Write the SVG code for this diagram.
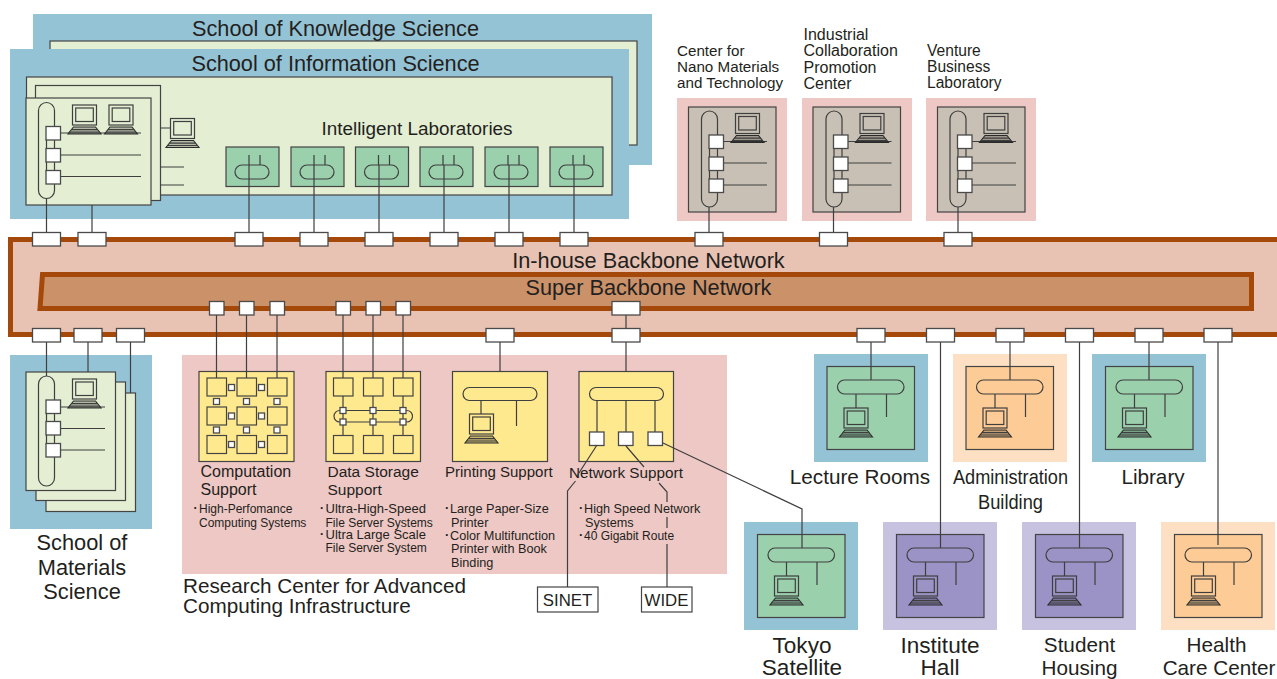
<svg xmlns="http://www.w3.org/2000/svg" width="1277" height="679" viewBox="0 0 1277 679">
<style>
text{font-family:"Liberation Sans",Arial,sans-serif;fill:#231f20}
.t20{font-size:21.7px}.t19{font-size:20.7px}.t22{font-size:22.6px}.t16{font-size:15.300px}.t12{font-size:12px}.t13{font-size:12.7px}
.m{text-anchor:middle}
.b{font-weight:bold}
.ln{fill:none;stroke:#3f3f3f;stroke-width:1.2}
.box{stroke:#444;stroke-width:1.2}
.port{fill:#fff;stroke:#4a4a4a;stroke-width:1.3}
.blue{fill:#95c3d6}.pink{fill:#eec8c5}.lpurple{fill:#c6c2e0}.peach{fill:#fde0c4}
.green{fill:#9bd0ac}.purple{fill:#9b93c6}.orange{fill:#fdcb95}.gray{fill:#c8c0b4}.pale{fill:#e3eed3}.yellow{fill:#ffe98f}
</style>
<defs>
<g id="cpu">
<rect x="0" y="0" width="24" height="20" class="ln"/>
<rect x="3.200" y="3" width="17.600" height="13.500" class="ln"/>
<path d="M1 22H23L28.500 29H-4.500Z" fill="#000" fill-opacity=".22" stroke="#2a2a2a" stroke-width="1.100"/>
<path d="M-1 24.700H25M-3 27H27" class="ln" stroke-width=".9"/>
</g>
<rect id="pt" x="-14" y="0" width="28" height="13.500" class="port"/>
<rect id="sq" x="0" y="0" width="14.500" height="13.500" class="port"/>
<rect id="ssq" x="0" y="0" width="6" height="6" class="port"/>
<rect id="cell" x="0" y="0" width="19.500" height="18" fill="#ffe98f" class="box"/>
<g id="rack">
<rect x="0" y="0" width="16" height="96" rx="8" class="ln"/>
<path d="M8 36V70" class="ln"/>
<use href="#sq" x="7.500" y="24"/><use href="#sq" x="7.500" y="46"/><use href="#sq" x="7.500" y="68"/>
</g>
<g id="site">
<rect x="10.500" y="14" width="66.500" height="14" rx="7" class="ln"/>
<path d="M29 28V42M59.500 28V51" class="ln"/>
<use href="#cpu" x="17" y="42"/>
</g>
<g id="lab">
<rect x="9" y="18" width="34" height="14" rx="7" class="ln"/>
<path d="M23 8V18M34 8V18" class="ln"/>
</g>
</defs>

<g id="school-knowledge">
<rect x="33" y="14" width="619" height="151" class="blue"/>
<rect x="50" y="41" width="587" height="104" class="pale box"/>
<text x="335.500" y="36" class="t20 m">School of Knowledge Science</text>
</g>

<g id="school-information">
<rect x="10" y="49" width="619" height="170" class="blue"/>
<rect x="26.500" y="77" width="585.500" height="118" class="pale box"/>
<text x="335.500" y="71" class="t20 m">School of Information Science</text>
<text x="417" y="135" class="m" style="font-size:18.900px">Intelligent Laboratories</text>
<rect x="35.500" y="85.500" width="125" height="115" class="pale box"/>
<path d="M160 128H170M160 167H184M160 185H184" class="ln"/>
<use href="#cpu" x="170.500" y="118.500"/>
<rect x="26" y="98" width="125" height="107" class="pale box"/>
<path d="M60 133H141M60 155H141M60 176.500H141" class="ln"/>
<use href="#rack" x="38.500" y="102.500"/>
<use href="#cpu" x="72.500" y="105"/>
<use href="#cpu" x="109" y="105"/>
</g>

<g id="intelligent-labs">
<g id="lab1"><rect x="226" y="147" width="53" height="39.500" class="green box"/><use href="#lab" x="226" y="147"/></g>
<g id="lab2"><rect x="291" y="147" width="53" height="39.500" class="green box"/><use href="#lab" x="291" y="147"/></g>
<g id="lab3"><rect x="355.500" y="147" width="53" height="39.500" class="green box"/><use href="#lab" x="355.500" y="147"/></g>
<g id="lab4"><rect x="420" y="147" width="53" height="39.500" class="green box"/><use href="#lab" x="420" y="147"/></g>
<g id="lab5"><rect x="485" y="147" width="53" height="39.500" class="green box"/><use href="#lab" x="485" y="147"/></g>
<g id="lab6"><rect x="550" y="147" width="53" height="39.500" class="green box"/><use href="#lab" x="550" y="147"/></g>
</g>

<g id="center-nano">
<rect x="677" y="98" width="110" height="123" class="pink"/>
<rect x="688.500" y="107" width="87.500" height="105" class="gray box"/>
<path d="M723 141.500H767M723 163H767M723 185H767" class="ln"/>
<use href="#rack" x="701.500" y="111"/>
<use href="#cpu" x="735.500" y="113.500"/>
<text style="font-size:15.200px"><tspan x="677" y="55.500">Center for</tspan><tspan x="677" y="72">Nano Materials</tspan><tspan x="677" y="88">and Technology</tspan></text>
</g>
<g id="center-industrial">
<rect x="802" y="98" width="110" height="123" class="pink"/>
<rect x="813" y="107" width="87.500" height="105" class="gray box"/>
<path d="M847.500 141.500H891.500M847.500 163H891.500M847.500 185H891.500" class="ln"/>
<use href="#rack" x="826" y="111"/>
<use href="#cpu" x="860" y="113.500"/>
<text style="font-size:16px"><tspan x="803.500" y="39.500">Industrial</tspan><tspan x="803.500" y="56">Collaboration</tspan><tspan x="803.500" y="72.500">Promotion</tspan><tspan x="803.500" y="88.500">Center</tspan></text>
</g>
<g id="center-venture">
<rect x="926" y="98" width="110" height="123" class="pink"/>
<rect x="937.500" y="107" width="87.500" height="105" class="gray box"/>
<path d="M972 141.500H1016M972 163H1016M972 185H1016" class="ln"/>
<use href="#rack" x="950" y="111"/>
<use href="#cpu" x="984" y="113.500"/>
<text style="font-size:15.600px"><tspan x="927" y="55.500">Venture</tspan><tspan x="927" y="72">Business</tspan><tspan x="927" y="88">Laboratory</tspan></text>
</g>

<g id="backbone">
<path d="M1280 239.500H10.500V334.500H1280" fill="#e8c2b2" stroke="#a5490b" stroke-width="5"/>
<text x="648.500" y="267.500" class="t20 m">In-house Backbone Network</text>
</g>
<g id="super-backbone">
<path d="M42.500 274.500H1251.500V308.500H40Z" fill="#cb9169" stroke="#a5490b" stroke-width="5"/>
<text x="648.500" y="295" class="t20 m">Super Backbone Network</text>
</g>

<g id="school-materials">
<rect x="10" y="355" width="142" height="174" class="blue"/>
<rect x="46" y="393" width="89.500" height="118.500" class="pale box"/>
<rect x="36" y="382" width="89.500" height="118.500" class="pale box"/>
<rect x="26" y="372" width="89.500" height="118.500" class="pale box"/>
<rect x="38.500" y="376" width="16" height="110" rx="8" class="ln"/>
<path d="M46.500 407H105M46.500 428.500H105M46.500 450H105M46.500 412V445" class="ln"/>
<use href="#sq" x="46" y="400"/><use href="#sq" x="46" y="421.500"/><use href="#sq" x="46" y="443.500"/>
<use href="#cpu" x="72.500" y="379"/>
<text class="m" style="font-size:21.800px"><tspan x="82" y="550">School of</tspan><tspan x="82" y="575">Materials</tspan><tspan x="82" y="599">Science</tspan></text>
</g>

<g id="research-center">
<rect x="182" y="355" width="545" height="219" class="pink"/>
<text x="183" y="593" class="t19">Research Center for Advanced</text>
<text x="183" y="613" class="t19">Computing Infrastructure</text>
</g>

<g id="computation-support">
<rect x="199" y="371.500" width="95" height="90" class="yellow box"/>
<use href="#cell" x="207" y="378"/><use href="#cell" x="237" y="378"/><use href="#cell" x="267.500" y="378"/>
<use href="#cell" x="207" y="407"/><use href="#cell" x="237" y="407"/><use href="#cell" x="267.500" y="407"/>
<use href="#cell" x="207" y="435.500"/><use href="#cell" x="237" y="435.500"/><use href="#cell" x="267.500" y="435.500"/>
<use href="#ssq" x="228.500" y="384.500"/><use href="#ssq" x="258.500" y="384.500"/>
<use href="#ssq" x="228.500" y="413"/><use href="#ssq" x="258.500" y="413"/>
<use href="#ssq" x="228.500" y="441.500"/><use href="#ssq" x="258.500" y="441.500"/>
<use href="#ssq" x="213.500" y="398.500"/><use href="#ssq" x="243.500" y="398.500"/><use href="#ssq" x="274" y="398.500"/>
<use href="#ssq" x="213.500" y="427"/><use href="#ssq" x="243.500" y="427"/><use href="#ssq" x="274" y="427"/>
<text style="font-size:16px"><tspan x="200.500" y="477">Computation</tspan><tspan x="200.500" y="495">Support</tspan></text>
<text class="t12"><tspan x="193.500" y="512" class="b">·</tspan><tspan x="199" y="513">High-Perfomance</tspan><tspan x="199" y="527">Computing Systems</tspan></text>
</g>

<g id="data-storage-support">
<rect x="326" y="371.500" width="94.500" height="90" class="yellow box"/>
<path d="M343 396V436M373 396V436M403 396V436" class="ln"/>
<rect x="334" y="410.500" width="78.500" height="11.500" rx="5.700" class="ln"/>
<use href="#cell" x="333.500" y="378"/><use href="#cell" x="363.500" y="378"/><use href="#cell" x="393.500" y="378"/>
<use href="#cell" x="333.500" y="435.500"/><use href="#cell" x="363.500" y="435.500"/><use href="#cell" x="393.500" y="435.500"/>
<use href="#ssq" x="340" y="407.500"/><use href="#ssq" x="370" y="407.500"/><use href="#ssq" x="400" y="407.500"/>
<use href="#ssq" x="340" y="419"/><use href="#ssq" x="370" y="419"/><use href="#ssq" x="400" y="419"/>
<text style="font-size:15.500px"><tspan x="327.500" y="477">Data Storage</tspan><tspan x="327.500" y="494.500">Support</tspan></text>
<text class="t12"><tspan x="320" y="512" class="b">·</tspan><tspan x="325.500" y="513" style="font-size:13px">Ultra-High-Speed</tspan><tspan x="325.500" y="526.500">File Server Systems</tspan><tspan x="320" y="538" class="b">·</tspan><tspan x="325.500" y="539" style="font-size:13px">Ultra Large Scale</tspan><tspan x="325.500" y="552">File Server System</tspan></text>
</g>

<g id="printing-support">
<rect x="452.500" y="371.500" width="95" height="90" class="yellow box"/>
<rect x="463" y="387.500" width="74" height="13" rx="6.500" class="ln"/>
<path d="M481 400.500V414M516.500 400.500V426" class="ln"/>
<use href="#cpu" x="469.500" y="414"/>
<text x="445" y="477" style="font-size:15px">Printing Support</text>
<text class="t13"><tspan x="445" y="512" class="b">·</tspan><tspan x="450" y="513">Large Paper-Size</tspan><tspan x="451" y="527">Printer</tspan><tspan x="445" y="539" class="b">·</tspan><tspan x="450" y="540">Color Multifunction</tspan><tspan x="451" y="553">Printer with Book</tspan><tspan x="451" y="567">Binding</tspan></text>
</g>

<g id="network-support">
<rect x="579" y="371.500" width="94.500" height="90" class="yellow box"/>
<rect x="589.500" y="387.500" width="74" height="13" rx="6.500" class="ln"/>
<path d="M597 400.500V432M626 400.500V432M655 400.500V432" class="ln"/>
<use href="#sq" x="589.500" y="432"/><use href="#sq" x="618.500" y="432"/><use href="#sq" x="648" y="432"/>
<text x="569" y="478" class="t16">Network Support</text>
<text class="t13"><tspan x="579" y="512" class="b">·</tspan><tspan x="584" y="513">High Speed Network</tspan><tspan x="585" y="527">Systems</tspan><tspan x="579" y="539" class="b">·</tspan><tspan x="584" y="540" style="font-size:12px">40 Gigabit Route</tspan></text>
</g>

<g id="sinet"><rect x="537.500" y="587" width="60.500" height="25" fill="#fff" class="box"/><text x="567.500" y="606" class="m" style="font-size:16.800px">SINET</text></g>
<g id="wide"><rect x="641.500" y="587" width="50.500" height="25" fill="#fff" class="box"/><text x="666.500" y="606" class="m" style="font-size:16.800px">WIDE</text></g>

<g id="lecture-rooms">
<rect x="814" y="354" width="114" height="108" class="blue"/>
<rect x="827" y="366.500" width="87.500" height="83" class="green box"/>
<use href="#site" x="827" y="366"/>
<text x="860" y="484" class="t19 m">Lecture Rooms</text>
</g>
<g id="administration">
<rect x="953" y="354" width="114" height="108" class="peach"/>
<rect x="966" y="366.500" width="87.500" height="83" class="orange box"/>
<use href="#site" x="966" y="366"/>
<text x="953" y="484" textLength="115" lengthAdjust="spacingAndGlyphs" class="t19">Administration</text>
<text x="978" y="509" textLength="65" lengthAdjust="spacingAndGlyphs" class="t19">Building</text>
</g>
<g id="library">
<rect x="1092" y="354" width="114" height="108" class="blue"/>
<rect x="1105.500" y="366.500" width="87.500" height="83" class="green box"/>
<use href="#site" x="1105.500" y="366"/>
<text x="1153" y="484" class="t19 m">Library</text>
</g>
<g id="tokyo-satellite">
<rect x="744" y="522" width="114" height="108" class="blue"/>
<rect x="757.500" y="534.500" width="87.500" height="83" class="green box"/>
<use href="#site" x="757.500" y="534"/>
<text class="t22 m"><tspan x="802" y="652.500">Tokyo</tspan><tspan x="802" y="674.500">Satellite</tspan></text>
</g>
<g id="institute-hall">
<rect x="883" y="522" width="114" height="108" class="lpurple"/>
<rect x="896.500" y="534.500" width="87.500" height="83" class="purple box"/>
<use href="#site" x="896.500" y="534"/>
<text class="t22 m"><tspan x="940" y="652.500">Institute</tspan><tspan x="940" y="674.500">Hall</tspan></text>
</g>
<g id="student-housing">
<rect x="1022" y="522" width="114" height="108" class="lpurple"/>
<rect x="1035.500" y="534.500" width="87.500" height="83" class="purple box"/>
<use href="#site" x="1035.500" y="534"/>
<text class="t19 m"><tspan x="1079.500" y="652">Student</tspan><tspan x="1079.500" y="674.500">Housing</tspan></text>
</g>
<g id="health-care">
<rect x="1161" y="522" width="114" height="108" class="peach"/>
<rect x="1174.500" y="534.500" width="87.500" height="83" class="orange box"/>
<use href="#site" x="1174.500" y="534"/>
<text class="t19 m"><tspan x="1216.500" y="652">Health</tspan><tspan x="1219" y="674.500">Care Center</tspan></text>
</g>

<g id="connectors">
<path class="ln" d="M46.500 199V232M92 205V232M249 165V232M314 165V232M379 165V232M444 165V232M509 165V232M574 165V232M709 207V232M833.500 207V232M958 207V232"/>
<path class="ln" d="M46.500 342V376M88 342V372M130.500 342V393"/>
<path class="ln" d="M216.500 315V378M246.500 315V378M277 315V378M343 315V378M373 315V378M403 315V378"/>
<path class="ln" d="M500 342V371.500M626 315V328M626 342V371.500"/>
<path class="ln" d="M871 342V380M1010 342V380M1149 342V380M940.500 342V548M1079.500 342V548M1218 342V545"/>
<path class="ln" d="M597 445L577 476M575.500 481L567.500 491V587"/>
<path class="ln" d="M626 446L644 467M659 483L667 492V502M667 517V528M667 544V587"/>
<path class="ln" d="M663 443L802 509V548"/>
</g>

<g id="ports">
<use href="#pt" x="46.500" y="232.500"/><use href="#pt" x="92" y="232.500"/><use href="#pt" x="249" y="232.500"/><use href="#pt" x="314" y="232.500"/><use href="#pt" x="379" y="232.500"/><use href="#pt" x="444" y="232.500"/><use href="#pt" x="509" y="232.500"/><use href="#pt" x="574" y="232.500"/><use href="#pt" x="709" y="232.500"/><use href="#pt" x="833.500" y="232.500"/><use href="#pt" x="958" y="232.500"/>
<use href="#pt" x="46.500" y="328.500"/><use href="#pt" x="88" y="328.500"/><use href="#pt" x="130.500" y="328.500"/><use href="#pt" x="500" y="328.500"/><use href="#pt" x="626" y="328.500"/><use href="#pt" x="871" y="328.500"/><use href="#pt" x="940.500" y="328.500"/><use href="#pt" x="1010" y="328.500"/><use href="#pt" x="1079.500" y="328.500"/><use href="#pt" x="1149" y="328.500"/><use href="#pt" x="1218" y="328.500"/>
<use href="#pt" x="626" y="301.500"/>
<use href="#sq" x="209.500" y="301.500"/><use href="#sq" x="239.500" y="301.500"/><use href="#sq" x="270" y="301.500"/><use href="#sq" x="336" y="301.500"/><use href="#sq" x="366" y="301.500"/><use href="#sq" x="396" y="301.500"/>
</g>
</svg>
